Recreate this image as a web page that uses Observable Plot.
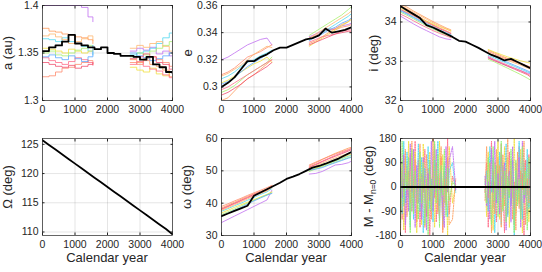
<!DOCTYPE html>
<html><head><meta charset="utf-8">
<script src="https://cdn.jsdelivr.net/npm/d3@7"></script>
<script src="https://cdn.jsdelivr.net/npm/@observablehq/plot@0.6"></script>
<style>
body{margin:0;background:#fff}
#wrap{position:relative;width:542px;height:272px;overflow:hidden;font-family:"Liberation Sans",Arial,sans-serif}
#wrap svg{position:absolute;overflow:visible}
</style>
</head><body><div id="wrap"></div>
<script>
// ---------- data ----------
const xTicks = [0, 1000, 2000, 3000, 4000];
const xLabel = "Calendar year";
const cloneColors = ["#c070f0","#ff9a5a","#ff8c6e","#50d8f0","#f0e040","#a8f070","#ff6e8a","#5aa8ff","#f05070","#ffb870"];
const blackYears = [0,200,400,600,800,1000,1200,1400,1600,1800,2000,2200,2400,2600,2800,3000,3200,3400,3600,3800,4000];
const cloneYearsL = [0,200,400,600,800,1000,1200,1400,1550];
const cloneYearsR = [2700,2900,3100,3300,3500,3700,3900,4000];

// a (au)
const aTicks = [1.3, 1.35, 1.4];
const aBlack = [1.352,1.356,1.358,1.362,1.369,1.360,1.358,1.356,1.354,1.356,1.350,1.349,1.347,1.347,1.346,1.343,1.346,1.338,1.335,1.330,1.329];
const aClonesL = [
  [1.4,1.4,1.4,1.4,1.4,1.4,1.398,1.388,1.383],
  [1.376,1.373,1.372,1.370,1.369,1.367,1.366,1.364,1.360],
  [1.325,1.326,1.330,1.334,1.335,1.338,1.340,1.342,1.338],
  [1.365,1.364,1.362,1.366,1.362,1.360,1.357,1.352,1.348],
  [1.355,1.354,1.352,1.350,1.354,1.352,1.350,1.352,1.355],
  [1.350,1.352,1.348,1.347,1.350,1.353,1.355,1.358,1.357],
  [1.345,1.342,1.340,1.338,1.341,1.345,1.343,1.340,1.337],
  [1.346,1.348,1.345,1.343,1.347,1.344,1.341,1.346,1.358],
  [1.340,1.338,1.336,1.335,1.337,1.334,1.336,1.338,1.340],
  [1.368,1.370,1.367,1.364,1.360,1.362,1.365,1.368,1.363]
];
const aClonesR = [
  [1.352,1.355,1.353,1.356,1.349,1.352,1.347,1.345],
  [1.343,1.340,1.344,1.338,1.336,1.332,1.325,1.318],
  [1.340,1.338,1.342,1.346,1.343,1.340,1.336,1.334],
  [1.348,1.350,1.352,1.355,1.360,1.366,1.371,1.370],
  [1.335,1.332,1.330,1.334,1.328,1.326,1.330,1.332],
  [1.346,1.350,1.348,1.352,1.355,1.358,1.362,1.364],
  [1.338,1.341,1.336,1.333,1.331,1.327,1.324,1.322],
  [1.350,1.347,1.345,1.342,1.344,1.347,1.350,1.356],
  [1.344,1.346,1.349,1.346,1.340,1.338,1.333,1.327],
  [1.355,1.358,1.356,1.360,1.362,1.357,1.352,1.348]
];

// e
const eTicks = [0.3, 0.32, 0.34, 0.36];
const eBlack = [0.300,0.303,0.307,0.313,0.319,0.319,0.322,0.324,0.327,0.329,0.329,0.331,0.333,0.335,0.336,0.338,0.343,0.340,0.341,0.342,0.344];
const eClonesL = [
  [0.320,0.322,0.325,0.328,0.331,0.333,0.335,0.336,0.331],
  [0.290,0.292,0.297,0.302,0.306,0.309,0.313,0.317,0.320],
  [0.309,0.311,0.314,0.318,0.322,0.324,0.326,0.329,0.331],
  [0.306,0.308,0.311,0.315,0.318,0.320,0.323,0.325,0.327],
  [0.303,0.305,0.308,0.311,0.314,0.317,0.319,0.322,0.318],
  [0.296,0.298,0.301,0.305,0.309,0.312,0.315,0.318,0.322],
  [0.298,0.300,0.303,0.306,0.309,0.312,0.315,0.318,0.320],
  [0.302,0.304,0.307,0.311,0.315,0.318,0.321,0.324,0.326],
  [0.294,0.296,0.299,0.302,0.306,0.309,0.312,0.315,0.318],
  [0.308,0.310,0.313,0.316,0.320,0.324,0.327,0.330,0.329]
];
const eClonesR = [
  [0.337,0.339,0.341,0.342,0.343,0.345,0.346,0.347],
  [0.332,0.334,0.337,0.340,0.343,0.346,0.348,0.350],
  [0.336,0.338,0.340,0.343,0.342,0.344,0.345,0.346],
  [0.335,0.337,0.340,0.343,0.346,0.349,0.352,0.354],
  [0.330,0.333,0.336,0.339,0.342,0.345,0.348,0.350],
  [0.338,0.341,0.344,0.347,0.350,0.353,0.357,0.359],
  [0.333,0.335,0.337,0.338,0.339,0.341,0.342,0.342],
  [0.334,0.337,0.339,0.342,0.344,0.347,0.349,0.351],
  [0.331,0.333,0.335,0.337,0.339,0.340,0.341,0.341],
  [0.336,0.339,0.342,0.345,0.348,0.351,0.354,0.356]
];

// i (deg)
const iTicks = [32, 33, 34];
const iBlack = [34.40,34.30,34.20,34.10,33.92,33.86,33.78,33.70,33.62,33.52,33.50,33.42,33.34,33.25,33.16,33.10,33.02,33.06,32.98,32.90,32.82];
const iClonesL = [
  [34.15,34.05,33.95,33.86,33.78,33.70,33.62,33.57,33.55],
  [34.45,34.38,34.28,34.19,34.10,34.01,33.93,33.85,33.80],
  [34.40,34.32,34.22,34.12,34.02,33.93,33.85,33.78,33.72],
  [34.30,34.22,34.13,34.04,33.96,33.88,33.80,33.73,33.68],
  [34.35,34.27,34.18,34.10,34.02,33.95,33.88,33.82,33.78],
  [34.25,34.17,34.08,33.99,33.90,33.82,33.74,33.67,33.62],
  [34.20,34.12,34.03,33.94,33.86,33.78,33.71,33.65,33.60],
  [34.28,34.20,34.11,34.02,33.93,33.85,33.77,33.71,33.66],
  [34.32,34.24,34.16,34.07,33.99,33.91,33.83,33.76,33.70],
  [34.42,34.34,34.25,34.16,34.07,33.98,33.90,33.83,33.76]
];
const iClonesR = [
  [33.10,33.02,32.95,32.88,32.82,32.76,32.70,32.68],
  [33.28,33.21,33.14,33.07,33.00,32.94,32.88,32.85],
  [33.25,33.18,33.11,33.05,32.99,32.93,32.88,32.85],
  [33.15,33.08,33.01,32.94,32.87,32.80,32.73,32.70],
  [33.30,33.23,33.17,33.11,33.06,33.01,32.97,32.95],
  [33.05,32.98,32.90,32.82,32.74,32.66,32.57,32.52],
  [33.12,33.04,32.97,32.90,32.83,32.76,32.68,32.64],
  [33.20,33.12,33.04,32.97,32.90,32.83,32.76,32.72],
  [33.08,33.01,32.94,32.87,32.80,32.73,32.66,32.60],
  [33.22,33.15,33.09,33.02,32.96,32.90,32.83,32.80]
];

// Omega (deg)
const OTicks = [110, 115, 120, 125];
const OBlack = [125.7,124.9,124.1,123.3,122.5,121.7,120.9,120.1,119.3,118.5,117.7,116.9,116.1,115.3,114.5,113.7,112.9,112.1,111.3,110.5,109.6];

// omega (deg)
const wTicks = [30, 40, 50, 60];
const wBlack = [36.0,36.8,37.6,38.4,39.2,42.3,43.3,44.3,45.3,46.3,47.5,48.2,49.0,50.0,51.0,51.5,52.2,53.0,53.8,54.8,55.8];
const wClonesL = [
  [34.0,35.0,36.0,37.0,38.0,39.0,40.0,41.0,44.0],
  [38.5,39.4,40.3,41.2,42.1,42.9,43.7,44.4,45.3],
  [39.0,39.8,40.7,41.5,42.4,43.2,44.0,44.8,45.5],
  [37.5,38.3,39.2,40.0,40.9,41.8,42.7,43.5,44.5],
  [37.0,37.8,38.7,39.5,40.3,41.1,41.9,42.7,43.5],
  [36.5,37.3,38.2,39.1,40.0,40.9,41.8,42.6,43.2],
  [38.0,38.9,39.8,40.7,41.6,42.4,43.2,44.0,45.0],
  [36.0,36.9,37.8,38.7,39.7,40.7,41.6,42.5,43.0],
  [38.2,39.1,40.0,40.9,41.8,42.7,43.5,44.2,45.2],
  [37.8,38.6,39.5,40.4,41.3,42.2,43.0,43.8,44.8]
];
const wClonesR = [
  [49.0,49.2,49.8,50.8,51.8,52.0,52.5,53.0],
  [51.5,52.5,53.5,54.5,55.4,56.2,57.0,57.3],
  [51.8,52.7,53.6,54.4,55.2,55.9,56.6,57.0],
  [50.5,50.8,51.5,52.3,53.0,53.8,54.5,54.9],
  [50.0,50.8,51.6,52.4,53.2,54.0,54.8,55.2],
  [49.8,50.6,51.3,52.0,52.7,53.4,54.1,54.4],
  [51.2,52.1,53.0,53.9,54.8,55.6,56.4,56.8],
  [50.2,50.5,51.0,51.8,52.5,53.2,53.9,54.2],
  [51.0,51.9,52.8,53.7,54.5,55.3,56.1,56.5],
  [50.8,51.6,52.4,53.2,54.0,54.7,55.4,55.8]
];

// M - M0 (deg)
const mTicks = [-180, -90, 0, 90, 180];
const mBlackYears = [0, 4000];
const mBlack = [0, 0];
const mColors = ["#ff6e8a","#f0e040","#50d8f0","#ffa060","#c070f0","#90f070"];
const mYearsL = [0,50,100,150,200,250,300,350,400,450,500,550,600,650,700,750,800,850,900,950,1000,1050,1100,1150,1200,1250,1300,1350,1400,1450,1500,1600,1700];
const mYearsR = [2600,2650,2700,2750,2800,2850,2900,2950,3000,3050,3100,3150,3200,3250,3300,3350,3400,3450,3500,3550,3600,3650,3700,3750,3800,3850,3900,3950,4000];
const mClonesL = [
  [150,-120,30,-170,80,-40,120,-90,10,170,-60,100,-150,50,-20,140,-110,70,-180,20,-70,160,-130,40,-10,110,-160,60,-50,180,-100,40,0],
  [-80,60,-160,110,-30,170,-120,20,-70,130,-170,40,90,-140,160,-50,10,-110,130,-30,80,-150,50,-90,170,-20,120,-60,30,-180,150,-60,10],
  [20,-100,170,-60,130,-10,-150,80,-120,40,-30,160,-90,110,-170,70,0,150,-80,30,-130,100,-20,170,-70,50,-140,90,-10,-110,60,90,-20],
  [-170,90,-20,140,-110,60,-60,170,-40,100,-130,10,160,-80,40,-150,120,-10,70,-120,180,-40,90,-100,20,150,-170,30,-70,110,-140,-120,30],
  [70,-40,120,-140,20,-90,160,-20,140,-150,80,-60,30,-120,110,-10,-160,50,-50,170,-90,0,140,-30,-120,60,-80,-150,150,-20,100,150,-10],
  [-130,170,-70,50,-10,110,-170,140,-100,60,-20,-120,130,-60,90,-140,30,-180,100,-90,10,170,-60,120,-150,80,-30,140,-110,70,-50,20,0]
];
const mClonesR = [
  [-20,90,-150,40,170,-80,20,-130,110,-40,160,-10,-170,70,-100,130,-60,30,-140,90,-20,150,-90,50,-180,100,-30,120,-70],
  [30,-110,130,-60,20,-160,90,-30,170,-120,40,-80,150,-10,110,-150,60,-40,180,-100,10,-60,140,-170,70,-20,100,-130,40],
  [10,60,-90,150,-20,110,-170,50,-60,130,-140,80,-30,160,-110,20,-70,100,-180,60,-50,170,-10,-120,90,-40,140,-80,20],
  [-50,150,-40,90,-170,60,-100,140,-10,80,-150,120,-70,40,180,-30,100,-120,20,-160,130,-80,60,-10,170,-140,30,-60,150],
  [40,-70,20,-120,140,-20,170,-60,50,-100,120,-40,90,-160,10,60,-130,150,-80,40,-10,110,-150,170,-60,20,-100,80,-30],
  [-10,-60,110,-20,-140,150,-50,80,-110,10,170,-90,60,-130,40,-40,140,-10,-170,100,-70,30,-120,150,-30,60,-160,110,0]
];

// ---------- helpers ----------
function cloneRows(L, R, yL, yR, colors) {
  const rows = [];
  L.forEach((vals, i) => vals.forEach((v, j) => rows.push({year: yL[j], v, id: "L" + i, color: colors[i % colors.length]})));
  R.forEach((vals, i) => vals.forEach((v, j) => rows.push({year: yR[j], v, id: "R" + i, color: colors[i % colors.length]})));
  return rows;
}
function blackRows(years, vals) { return years.map((y, i) => ({year: y, v: vals[i]})); }

const FONT = '"Liberation Sans", Arial, sans-serif';
const wrap = document.getElementById("wrap");

function panel(o) {
  const ml = 45, mr = 10, mt = 6, mb = 38;
  const marks = [
    Plot.gridX(xTicks, {stroke: "#000", strokeOpacity: 0.1}),
    Plot.gridY(o.yTicks, {stroke: "#000", strokeOpacity: 0.1}),
  ];
  if (o.clones) marks.push(Plot.line(o.clones, {x: "year", y: "v", z: "id", stroke: "color", strokeWidth: o.cloneWidth || 0.8, strokeDasharray: o.dash, curve: o.curve || "linear", clip: true}));
  marks.push(Plot.line(o.black, {x: "year", y: "v", stroke: "#000", strokeWidth: 1.8, curve: o.curve || "linear", clip: true}));
  marks.push(
    Plot.axisX(xTicks, {anchor: "bottom", tickSize: -2.5, tickPadding: 7.5, tickFormat: d => String(d), fontSize: 10.5, label: null}),
    Plot.axisX(xTicks, {anchor: "top", tickSize: -2.5, tickFormat: () => "", label: null}),
    Plot.axisY(o.yTicks, {anchor: "left", tickSize: -2.5, tickPadding: 6.5, tickFormat: d => String(d), fontSize: 10.5,
      label: o.ylabel, labelAnchor: "center", labelArrow: "none", labelOffset: o.labelOffset || 40}),
    Plot.axisY(o.yTicks, {anchor: "right", tickSize: -2.5, tickFormat: () => "", label: null}),
    Plot.frame({stroke: "#262626", strokeWidth: 0.7})
  );
  const svg = Plot.plot({
    width: ml + o.w + mr, height: mt + o.h + mb,
    marginLeft: ml, marginRight: mr, marginTop: mt, marginBottom: mb,
    style: {fontFamily: FONT, fontSize: "12px", color: "#262626", background: "transparent", overflow: "visible"},
    x: {domain: [0, 4000]},
    y: {domain: o.yDomain},
    color: {type: "identity"},
    marks
  });
  d3.select(svg).selectAll('g[aria-label="y-axis label"]')
    .attr("font-size", 13).style("font-size", "13px");
  if (o.xlabel) {
    d3.select(svg).append("text")
      .attr("x", ml + o.w / 2).attr("y", mt + o.h + 27)
      .attr("text-anchor", "middle").attr("font-size", 13).attr("fill", "#262626")
      .text(xLabel);
  }
  svg.style.left = (o.left - ml) + "px";
  svg.style.top = (o.top - mt) + "px";
  wrap.appendChild(svg);
  if (o.customLabel) o.customLabel(svg, ml, mt);
  return svg;
}

// ---------- panels ----------
panel({left: 42, top: 5, w: 130, h: 95, yDomain: [1.3, 1.4], yTicks: aTicks, ylabel: "a (au)", curve: "step-after",
  clones: cloneRows(aClonesL, aClonesR, cloneYearsL, cloneYearsR, cloneColors), black: blackRows(blackYears, aBlack)});
panel({left: 221, top: 5, w: 130, h: 95, yDomain: [0.29, 0.36], yTicks: eTicks, ylabel: "e", labelOffset: 39,
  clones: cloneRows(eClonesL, eClonesR, cloneYearsL, cloneYearsR, cloneColors), black: blackRows(blackYears, eBlack)});
panel({left: 400, top: 5, w: 130, h: 95, yDomain: [32, 34.42], yTicks: iTicks, ylabel: "i (deg)", labelOffset: 32,
  clones: cloneRows(iClonesL, iClonesR, cloneYearsL, cloneYearsR, cloneColors), black: blackRows(blackYears, iBlack)});
panel({left: 42, top: 138, w: 130, h: 97, yDomain: [109.4, 126], yTicks: OTicks, ylabel: "Ω (deg)", xlabel: true,
  black: blackRows(blackYears, OBlack)});
panel({left: 221, top: 138, w: 130, h: 97, yDomain: [30, 60], yTicks: wTicks, ylabel: "ω (deg)", xlabel: true,
  clones: cloneRows(wClonesL, wClonesR, cloneYearsL, cloneYearsR, cloneColors), black: blackRows(blackYears, wBlack)});
panel({left: 400, top: 138, w: 130, h: 97, yDomain: [-180, 180], yTicks: mTicks, ylabel: null, xlabel: true,
  clones: cloneRows(mClonesL, mClonesR, mYearsL, mYearsR, mColors), dash: "1.3,1.2", cloneWidth: 0.9,
  black: blackRows(mBlackYears, mBlack),
  customLabel: (svg, ml, mt) => {
    const t = d3.select(svg).append("text")
      .attr("transform", `translate(${ml - 32},${mt + 97 / 2}) rotate(-90)`)
      .attr("text-anchor", "middle").attr("font-size", 13).attr("fill", "#262626").attr("dy", "0.35em");
    t.append("tspan").text("M - M");
    t.append("tspan").attr("font-size", 8.5).attr("dy", 3).text("n=0");
    t.append("tspan").attr("dy", -3).text(" (deg)");
  }});
</script>
</body></html>
